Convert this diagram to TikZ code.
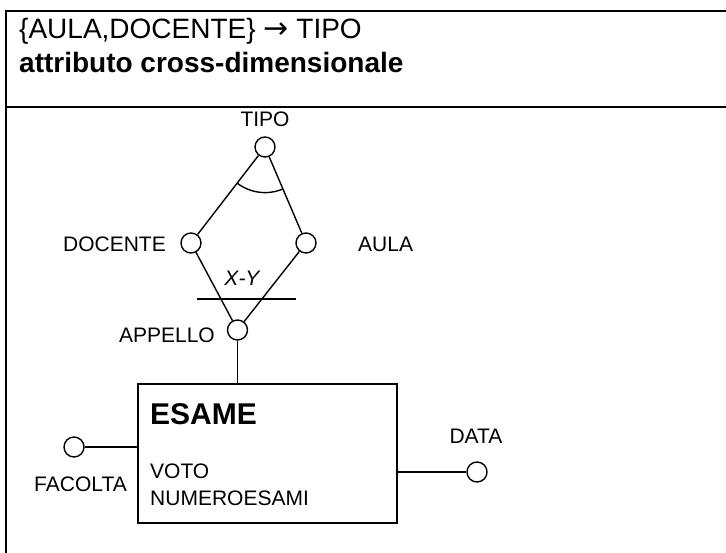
\documentclass[tikz,border=0pt]{standalone}
\usepackage{fontspec}
\setmainfont{Liberation Sans}
\newfontfamily\arrowfont{DejaVu Sans}
\begin{document}
\begin{tikzpicture}[x=1pt,y=-1pt,
  attr/.style={circle,draw,line width=1.4pt,minimum size=20pt,inner sep=0pt},
  lbl/.style={inner sep=0pt,font=\fontsize{21}{25}\selectfont},
  ttl/.style={inner sep=0pt,anchor=base west,font=\fontsize{28}{32}\selectfont},
  conn/.style={line width=1.4pt},
  frame/.style={line width=2.4pt}]
\useasboundingbox (0,0) rectangle (726,552);
% frame
\coordinate (ftl) at (6,11);
\coordinate (ftr) at (730,11);
\coordinate (fml) at (6,107);
\coordinate (fmr) at (730,107);
\coordinate (fbl) at (6,560);
\draw[frame] (ftr) -- (ftl) -- (fbl);
\draw[frame] (fml) -- (fmr);
% title
\node[ttl] (t1) at (19,38) {\{AULA,DOCENTE\} {\arrowfont\fontsize{30}{32}\selectfont →} TIPO};
\node[ttl,font=\fontsize{28}{32}\selectfont\bfseries] (t2) at (19,72) {attributo cross-dimensionale};
% attributes
\node[attr] (tipo) at (265,147) {};
\node[attr] (docente) at (191,243) {};
\node[attr] (aula) at (306,243) {};
\node[attr] (appello) at (237.5,330) {};
\node[attr] (facolta) at (74,447) {};
\node[attr] (data) at (477,472) {};
% labels
\node[lbl] (ltipo) at (265,119) {TIPO};
\node[lbl,anchor=east] (ldocente) at (166,244.5) {DOCENTE};
\node[lbl,anchor=west] (laula) at (358,244) {AULA};
\node[lbl,anchor=east] (lappello) at (215,335.5) {APPELLO};
\node[lbl,anchor=east] (lfacolta) at (127,484) {FACOLTA};
\node[lbl] (ldata) at (476,436) {DATA};
\node[lbl,font=\fontsize{21}{25}\selectfont\itshape] (lxy) at (242,278) {X-Y};
% entity
\node[draw,line width=1.4pt,minimum width=259pt,minimum height=139pt,inner sep=0pt] (esame) at (267.5,453.5) {};
\node[lbl,anchor=base west,font=\fontsize{30}{34}\selectfont\bfseries] (lesame) at (150,424) {ESAME};
\node[lbl,anchor=base west] (lvoto) at (150,478.5) {VOTO};
\node[lbl,anchor=base west] (lnum) at (150,505) {NUMEROESAMI};
% connectors
\draw[conn] (tipo) -- (docente);
\draw[conn] (tipo) -- (aula);
\draw[conn] (docente) -- (appello);
\draw[conn] (aula) -- (appello);
\draw[conn] (appello) -- (appello |- esame.north);
\draw[conn] (facolta) -- (esame.west |- facolta);
\draw[conn] (esame.east |- data) -- (data);
% cross-dimensional arc and X-Y bar
\draw[conn] ([shift={(232.3:45.6pt)}]tipo.center) arc[start angle=232.3,end angle=293.1,radius=45.6pt];
\coordinate (xyl) at (197,299);
\coordinate (xyr) at (296,299);
\draw[conn] (xyl) -- (xyr);
\end{tikzpicture}
\end{document}
